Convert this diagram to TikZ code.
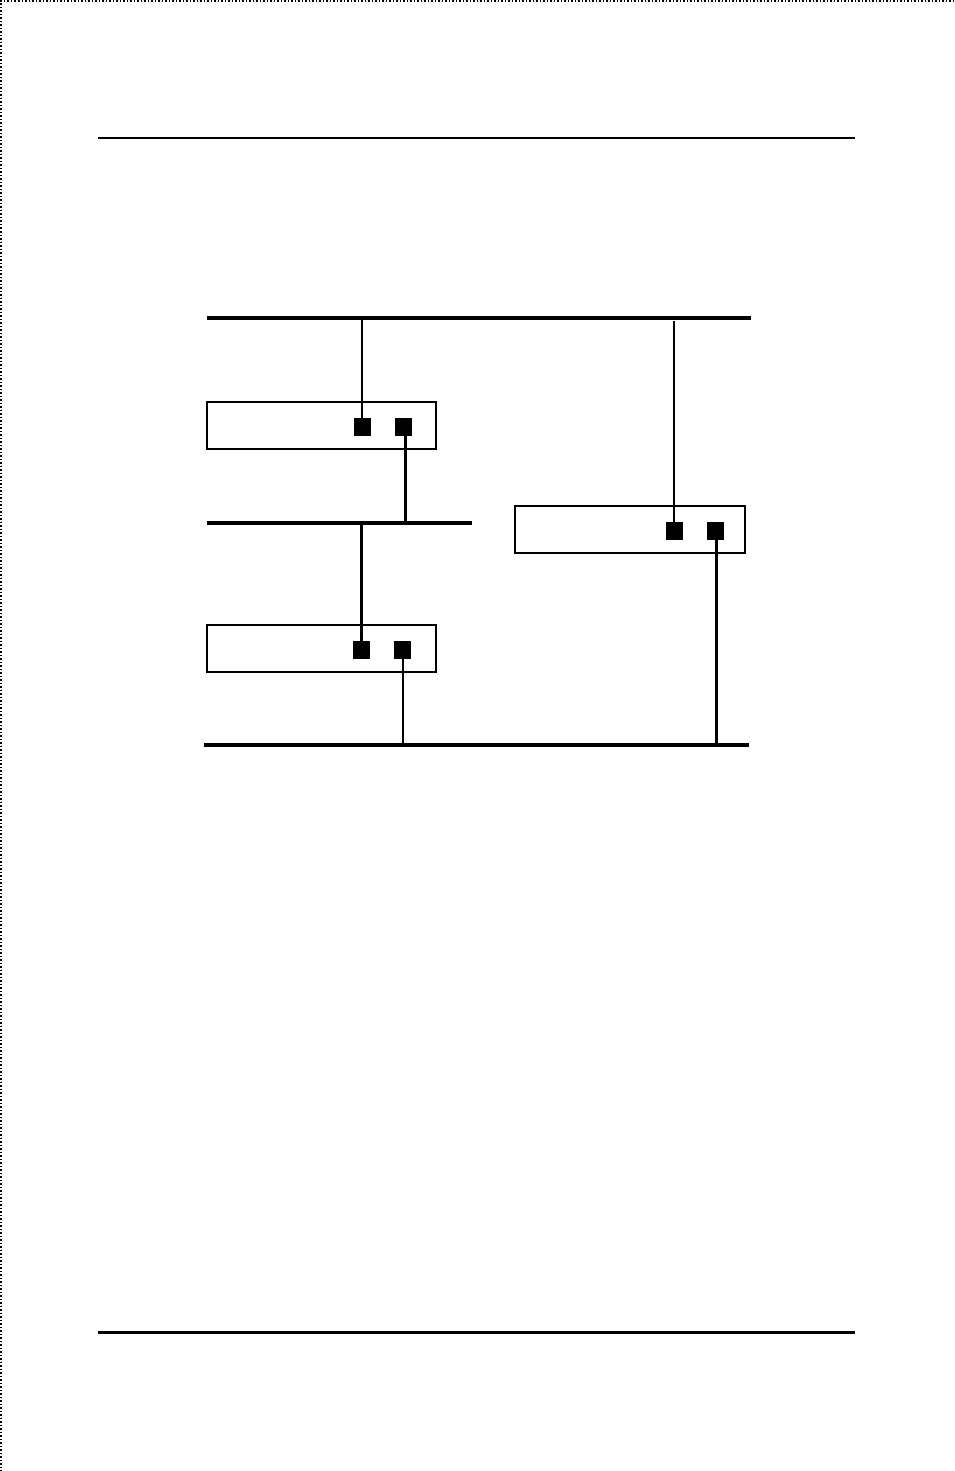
\documentclass[tikz,border=0pt]{standalone}
\begin{document}
\begin{tikzpicture}[x=1pt,y=-1pt,
  devbox/.style={draw=black,line width=2pt,rectangle,minimum width=229pt,minimum height=47pt,inner sep=0pt,outer sep=0pt},
  port/.style={fill=black,rectangle,minimum width=17pt,minimum height=18pt,inner sep=0pt,outer sep=0pt},
  bus/.style={line width=4.7pt},
  thinlink/.style={line width=1.8pt},
  thicklink/.style={line width=3pt},
  rule/.style={line width=2.7pt},
  edge/.style={line width=1.5pt,dotted}]
\useasboundingbox (0,0) rectangle (954,1471);
\fill[white] (0,0) rectangle (954,1471);
% page edge marks
\coordinate (tl) at (1,1);
\coordinate (tr) at (954,1);
\coordinate (bl) at (1,1471);
\draw[edge] (tr) -- (tl) -- (bl);
% header and footer rules
\coordinate (h1) at (98,138);
\coordinate (h2) at (855,138);
\coordinate (f1) at (98,1332.5);
\coordinate (f2) at (855,1332.5);
\draw[rule] (h1) -- (h2);
\draw[line width=3pt] (f1) -- (f2);
% buses
\coordinate (busA1) at (207,318);
\coordinate (busA2) at (751,318);
\coordinate (busB1) at (207,523);
\coordinate (busB2) at (472,523);
\coordinate (busC1) at (204,745);
\coordinate (busC2) at (749,745);
\draw[bus] (busA1) -- (busA2);
\draw[bus] (busB1) -- (busB2);
\draw[bus] (busC1) -- (busC2);
% devices
\node[devbox] (dev1) at (321.5,425.5) {};
\node[devbox,minimum width=230pt] (dev2) at (630,529.5) {};
\node[devbox] (dev3) at (321.5,648.5) {};
% junctions on buses
\coordinate (jA1) at (362,320);
\coordinate (jA2) at (674,321);
\coordinate (jB1) at (405,523);
\coordinate (jB2) at (361,523);
\coordinate (jC1) at (403,745);
\coordinate (jC2) at (716,745);
% links
\draw[thinlink] (jA1) -- (362,426.5);
\draw[thinlink] (jA2) -- (674,530.5);
\draw[thicklink] (405,426.5) -- (jB1);
\draw[thicklink] (jB2) -- (361,649.5);
\draw[thinlink] (403,649.5) -- (jC1);
\draw[thicklink] (716,530.5) -- (jC2);
% ports
\node[port] (p11) at (362.5,426.5) {};
\node[port] (p12) at (403.5,426.5) {};
\node[port] (p21) at (674.5,530.5) {};
\node[port] (p22) at (715.5,530.5) {};
\node[port] (p31) at (361,649.5) {};
\node[port] (p32) at (402,649.5) {};
\end{tikzpicture}
\end{document}
